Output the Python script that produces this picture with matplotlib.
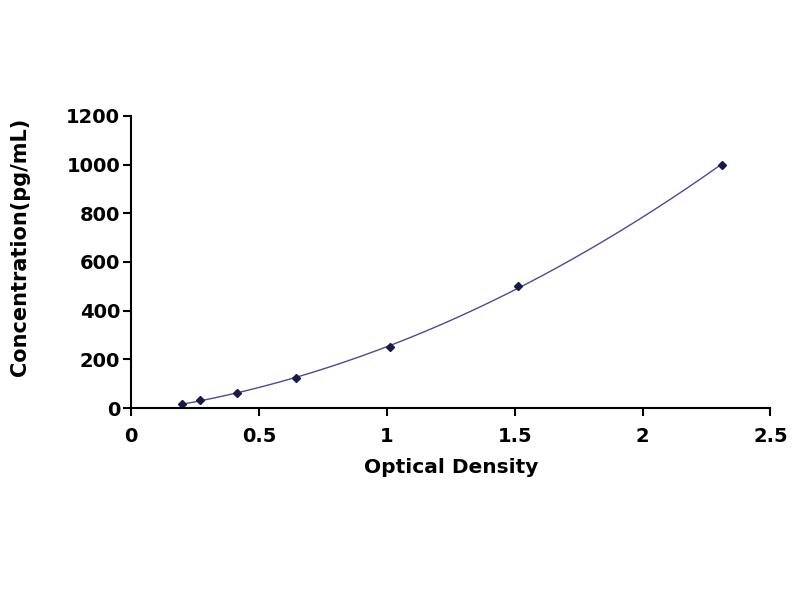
import numpy as np
import matplotlib.pyplot as plt

# standard curve points
od = [0.197, 0.27, 0.415, 0.645, 1.013, 1.514, 2.31]
conc = [15.6, 31.2, 62.5, 125, 250, 500, 1000]

x_ticks = [0, 0.5, 1, 1.5, 2, 2.5]
y_ticks = [0, 200, 400, 600, 800, 1000, 1200]

plt.rcParams['font.family'] = ['DejaVu Sans']

fig = plt.figure(figsize=(8, 6), dpi=100)
ax = fig.add_axes([0.164, 0.32, 0.799, 0.487])

# polynomial trendline through the points
coef = np.polyfit(od, conc, 2)
xs = np.linspace(min(od), max(od), 200)
ax.plot(xs, np.polyval(coef, xs), color='#4a4a9a', lw=1)
ax.plot(od, conc, 'D', color='#1a1a4a', ms=4)

ax.set_xlim(0, 2.5)
ax.set_ylim(0, 1200)
ax.set_xticks(x_ticks)
ax.set_xticklabels(['0', '0.5', '1', '1.5', '2', '2.5'])
ax.set_yticks(y_ticks)
for s in ['top', 'right']:
    ax.spines[s].set_visible(False)
for s in ['left', 'bottom']:
    ax.spines[s].set_linewidth(1.5)
ax.tick_params(direction='out', length=6, width=1.5, labelsize=14)
ax.tick_params(axis='y', pad=2)
ax.tick_params(axis='x', pad=8)
for lab in ax.get_xticklabels() + ax.get_yticklabels():
    lab.set_fontweight('bold')

ax.set_xlabel('Optical Density', fontsize=14.5, fontweight='bold', labelpad=8)
ax.set_ylabel('Concentration(pg/mL)', fontsize=15, fontweight='bold')
ax.yaxis.set_label_coords(-0.159, 0.55)

fig.savefig('out.png', dpi=100)
